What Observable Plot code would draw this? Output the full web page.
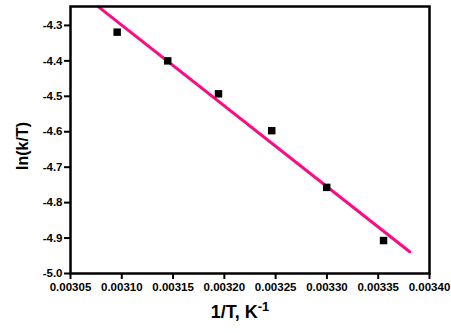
<!DOCTYPE html>
<html>
<head>
<meta charset="utf-8">
<script src="https://cdn.jsdelivr.net/npm/d3@7"></script>
<script src="https://cdn.jsdelivr.net/npm/@observablehq/plot@0.6"></script>
<style>
  html, body { margin: 0; padding: 0; background: #fff; }
  #chart svg { display: block; }
</style>
</head>
<body>
<div id="chart"></div>
<script>
// Data
const invT = [0.0030955, 0.0031448, 0.0031943, 0.0032462, 0.0032998, 0.0033552];
const lnKT = [-4.319, -4.400, -4.493, -4.597, -4.757, -4.907];
// Linear fit line endpoints
const fitX = [0.003077, 0.0033807];
const fitY = [-4.247, -4.9385];
const xTicks = [0.00305, 0.00310, 0.00315, 0.00320, 0.00325, 0.00330, 0.00335, 0.00340];
const yTicks = [-5.0, -4.9, -4.8, -4.7, -4.6, -4.5, -4.4, -4.3];

const points = invT.map((x, i) => ({x, y: lnKT[i]}));
const fit = fitX.map((x, i) => ({x, y: fitY[i]}));

const font = "'Liberation Sans', Arial, sans-serif";

const chart = Plot.plot({
  width: 451,
  height: 333,
  marginLeft: 70,
  marginRight: 22,
  marginTop: 6,
  marginBottom: 60,
  style: {fontFamily: font, fontSize: "11.5px", fontWeight: "bold", color: "#000", background: "#fff"},
  x: {domain: [0.00305, 0.00340], ticks: xTicks, tickFormat: d => d.toFixed(5), label: null},
  y: {domain: [-5.0, -4.2466], ticks: yTicks, tickFormat: d => d.toFixed(1), label: null},
  marks: [
    Plot.axisX({ticks: xTicks, tickFormat: d => d.toFixed(5), tickSize: 6, tickPadding: 3, strokeWidth: 2, fill: "#000", label: null}),
    Plot.axisY({ticks: yTicks, tickFormat: d => d.toFixed(1), tickSize: 6, tickPadding: 2, strokeWidth: 2, fill: "#000", label: null}),
    Plot.line(fit, {x: "x", y: "y", stroke: "#ff0a80", strokeWidth: 3}),
    Plot.dot(points, {x: "x", y: "y", symbol: "square", fill: "#000", r: 4.2}),
    Plot.frame({stroke: "#000", strokeWidth: 2.5})
  ]
});

document.getElementById("chart").appendChild(chart);

const svg = d3.select(chart);
// Y axis title
svg.append("text")
  .attr("transform", "translate(28,146) rotate(-90)")
  .attr("text-anchor", "middle")
  .attr("font-family", font)
  .attr("font-weight", "bold")
  .attr("font-size", 16)
  .attr("fill", "#000")
  .text("ln(k/T)");
// X axis title with superscript
const xt = svg.append("text")
  .attr("x", 240)
  .attr("y", 318)
  .attr("text-anchor", "middle")
  .attr("font-family", font)
  .attr("font-weight", "bold")
  .attr("font-size", 18)
  .attr("fill", "#000");
xt.append("tspan").text("1/T, K");
xt.append("tspan").attr("dy", -7).attr("font-size", 13).text("-1");
</script>
</body>
</html>
